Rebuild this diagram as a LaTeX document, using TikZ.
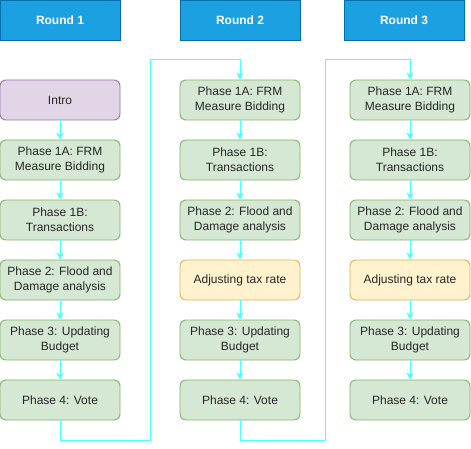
\documentclass[tikz,border=0pt]{standalone}
\usepackage{fontspec}
\setmainfont{Liberation Sans}
\usetikzlibrary{arrows.meta}
\definecolor{gfill}{HTML}{D5E8D4}\definecolor{gdraw}{HTML}{82B366}
\definecolor{pfill}{HTML}{E1D5E7}\definecolor{pdraw}{HTML}{9673A6}
\definecolor{yfill}{HTML}{FFF2CC}\definecolor{ydraw}{HTML}{D6B656}
\definecolor{hfill}{HTML}{1BA1E2}\definecolor{hdraw}{HTML}{006EAF}
\definecolor{arr}{HTML}{4DFFFF}
\tikzset{
  box/.style={draw, rounded corners=6pt, minimum width=120pt, minimum height=40pt, inner sep=0pt, align=center, font=\fontsize{12}{15}\selectfont, text=black!85, line width=0.9pt},
  gbox/.style={box, fill=gfill, draw=gdraw},
  pbox/.style={box, fill=pfill, draw=pdraw},
  ybox/.style={box, fill=yfill, draw=ydraw},
  hbox/.style={draw=hdraw, fill=hfill, minimum width=120pt, minimum height=40pt, inner sep=0pt, font=\bfseries\fontsize{12}{14}\selectfont, text=white, line width=0.9pt},
  link/.style={draw=arr, line width=1pt, -{Stealth[length=7pt,width=7pt,inset=2pt]}},
}
\begin{document}
\begin{tikzpicture}[x=1pt,y=-1pt]
\useasboundingbox (0,0) rectangle (471,449);
% headers
\node[hbox] (h1) at (60,20) {Round 1};
\node[hbox] (h2) at (240,20) {Round 2};
\node[hbox] (h3) at (404,20) {Round 3};
% column 1
\node[pbox] (a0) at (60,100) {Intro};
\node[gbox] (a1) at (60,160) {Phase 1A: FRM\\Measure Bidding};
\node[gbox] (a2) at (60,220) {Phase 1B:\\Transactions};
\node[gbox] (a3) at (60,280) {Phase 2: Flood and\\Damage analysis};
\node[gbox] (a4) at (60,340) {Phase 3: Updating\\Budget};
\node[gbox] (a5) at (60,400) {Phase 4: Vote};
% column 2
\node[gbox] (b1) at (240,100) {Phase 1A: FRM\\Measure Bidding};
\node[gbox] (b2) at (240,160) {Phase 1B:\\Transactions};
\node[gbox] (b3) at (240,220) {Phase 2: Flood and\\Damage analysis};
\node[ybox] (b4) at (240,280) {Adjusting tax rate};
\node[gbox] (b5) at (240,340) {Phase 3: Updating\\Budget};
\node[gbox] (b6) at (240,400) {Phase 4: Vote};
% column 3
\node[gbox] (c1) at (410,100) {Phase 1A: FRM\\Measure Bidding};
\node[gbox] (c2) at (410,160) {Phase 1B:\\Transactions};
\node[gbox] (c3) at (410,220) {Phase 2: Flood and\\Damage analysis};
\node[ybox] (c4) at (410,280) {Adjusting tax rate};
\node[gbox] (c5) at (410,340) {Phase 3: Updating\\Budget};
\node[gbox] (c6) at (410,400) {Phase 4: Vote};
% links
\foreach \u/\v in {a0/a1,a1/a2,a2/a3,a3/a4,a4/a5,b1/b2,b2/b3,b3/b4,b4/b5,b5/b6,c1/c2,c2/c3,c3/c4,c4/c5,c5/c6}
  \draw[link] (\u) -- (\v);
\coordinate (t1) at (150,60);
\coordinate (t2) at (325,60);
\draw[link] (a5.south) -- ++(0,20) -| (t1) -| (b1.north);
\draw[link] (b6.south) -- ++(0,20) -| (t2) -| (c1.north);
\end{tikzpicture}
\end{document}
